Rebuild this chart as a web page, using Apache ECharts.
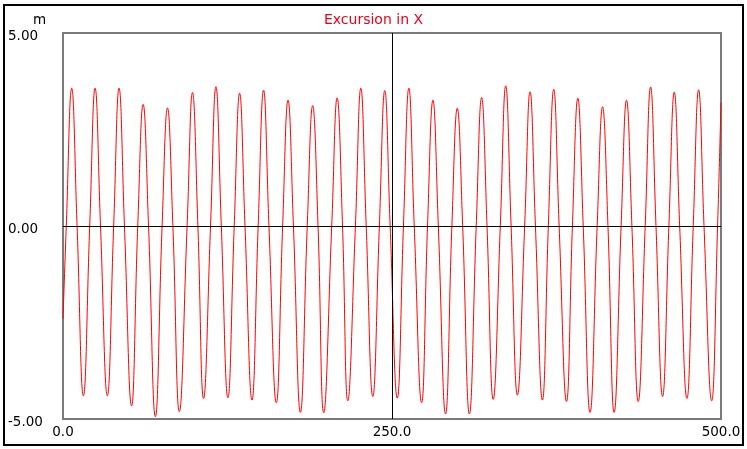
<!DOCTYPE html>
<html>
<head>
<meta charset="utf-8">
<script src="https://cdn.jsdelivr.net/npm/echarts@6/dist/echarts.min.js"></script>
<style>html,body{margin:0;padding:0;background:#fff}#c{width:747px;height:449px}</style>
</head>
<body>
<div id="c"></div>
<script>
// Values (time in s, excursion in m)
const titleText = 'Excursion in X';
const unitText = 'm';
const xTicks = [0, 250, 500];
const yTicks = [-5, 0, 5];
const startPoint = [0, -2.4];
const endPoint = [500, 3.2];
const peakTimes = [6.6, 24.4, 42.6, 60.9, 79.4, 98.4, 116.2, 134.2, 152.4, 171.0, 189.7, 208.3, 226.3, 244.5, 262.8, 281.1, 299.6, 318.1, 336.4, 354.9, 372.9, 391.2, 410.0, 428.2, 446.5, 464.5, 483.0];
const peakValues = [3.57, 3.57, 3.57, 3.15, 3.06, 3.46, 3.61, 3.44, 3.52, 3.26, 3.12, 3.32, 3.57, 3.51, 3.57, 3.26, 3.05, 3.33, 3.63, 3.48, 3.54, 3.31, 3.09, 3.26, 3.60, 3.47, 3.53];
const troughTimes = [15.5, 33.7, 52.1, 70.2, 88.4, 106.8, 125.3, 143.6, 162.1, 180.4, 198.1, 216.4, 235.4, 254.0, 272.5, 290.7, 308.8, 326.9, 345.3, 364.3, 382.6, 400.5, 418.8, 437.1, 455.6, 474.1, 492.9];
const troughValues = [-4.40, -4.40, -4.66, -4.94, -4.81, -4.47, -4.45, -4.51, -4.58, -4.83, -4.84, -4.53, -4.42, -4.46, -4.58, -4.87, -4.87, -4.49, -4.38, -4.51, -4.55, -4.83, -4.83, -4.55, -4.42, -4.47, -4.53];
const risingZeroTimes = [2.5, 20.3, 38.5, 56.8, 75.3, 94.3, 112.1, 130.1, 148.3, 166.9, 185.6, 204.2, 222.2, 240.4, 258.7, 277.0, 295.5, 314.0, 332.3, 350.8, 368.8, 387.1, 405.9, 424.1, 442.4, 460.4, 478.9, 497.4];
const fallingZeroTimes = [10.7, 28.5, 46.7, 65.0, 83.5, 102.5, 120.3, 138.3, 156.5, 175.1, 193.8, 212.4, 230.4, 248.6, 266.9, 285.2, 303.7, 322.2, 340.5, 359.0, 377.0, 395.3, 414.1, 432.3, 450.6, 468.6, 487.1];

const pts = [startPoint, endPoint];
peakTimes.forEach((t, i) => pts.push([t, peakValues[i]]));
troughTimes.forEach((t, i) => pts.push([t, troughValues[i]]));
risingZeroTimes.forEach(t => pts.push([t, 0]));
fallingZeroTimes.forEach(t => pts.push([t, 0]));
pts.sort((a, b) => a[0] - b[0]);

const FONT = 'DejaVu Sans';
const chart = echarts.init(document.getElementById('c'), null, {renderer: 'canvas'});
chart.setOption({
  animation: false,
  backgroundColor: '#ffffff',
  title: {
    text: titleText, left: 'center', top: 8,
    textStyle: {color: '#e8001c', fontFamily: FONT, fontSize: 14, fontWeight: 'normal'}
  },
  grid: {left: 63, top: 33, right: 26, bottom: 30, show: true, borderColor: '#7a7a7a', borderWidth: 2, backgroundColor: '#fff'},
  xAxis: {
    type: 'value', min: xTicks[0], max: xTicks[xTicks.length - 1], interval: 250,
    axisLine: {show: false}, axisTick: {show: false}, splitLine: {show: false},
    axisLabel: {margin: 6, color: '#000', fontFamily: FONT, fontSize: 13.5, formatter: v => v.toFixed(1)}
  },
  yAxis: {
    type: 'value', min: yTicks[0], max: yTicks[yTicks.length - 1], interval: 5,
    axisLine: {show: false}, axisTick: {show: false}, splitLine: {show: false},
    axisLabel: {margin: 55, align: 'left', verticalAlign: 'top', lineHeight: 6, color: '#000', fontFamily: FONT, fontSize: 13.5,
      formatter: v => v.toFixed(2)}
  },
  graphic: [
    {type: 'rect', shape: {x: 4, y: 5, width: 739, height: 440}, style: {fill: 'none', stroke: '#000', lineWidth: 2}, z: 100},
    {type: 'text', x: 33, y: 13, style: {text: unitText, fill: '#000', font: '13.5px "DejaVu Sans"'}, z: 100}
  ],
  series: [{
    type: 'line', data: pts, smooth: 0.45, symbol: 'none',
    lineStyle: {color: '#ff0000', width: 1},
    markLine: {
      silent: true, symbol: 'none', label: {show: false},
      lineStyle: {color: '#000', type: 'solid', width: 1},
      data: [{xAxis: 250}, {yAxis: 0}]
    }
  }]
});
</script>
</body>
</html>
